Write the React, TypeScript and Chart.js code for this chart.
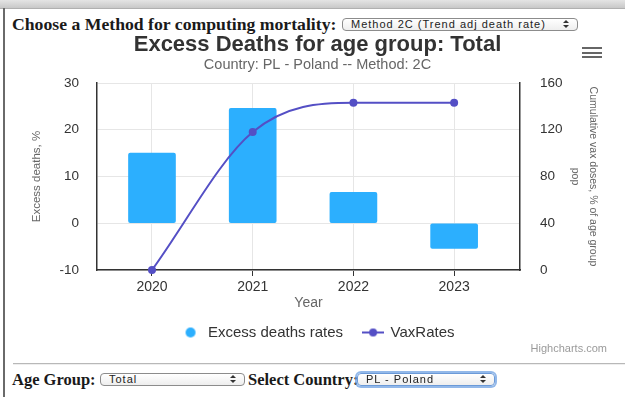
import React, { useEffect, useRef } from "react";
import { Chart, registerables } from "chart.js";

Chart.register(...registerables);

// ---- data ----
const categories = ["2020", "2021", "2022", "2023"];
const excessDeaths = [15.0, 24.6, 6.6, -5.4];
const vaxRates = [0, 118, 143, 143];
const leftAxisTicks = [-10, 0, 10, 20, 30];
const rightAxisTicks = [0, 40, 80, 120, 160];
const seriesNames = ["Excess deaths rates", "VaxRates"];

const titleText = "Excess Deaths for age group: Total";
const subtitleText = "Country: PL - Poland -- Method: 2C";
const xTitle = "Year";
const leftTitle = "Excess deaths, %";
const rightTitle = ["Cumulative vax doses, % of age group", "pop"];

const BAR_COLOR = "#2caffe";
const LINE_COLOR = "#544fc5";
const SANS = "'Liberation Sans', Arial, Helvetica, sans-serif";
const SERIF = "'Liberation Serif', 'Times New Roman', serif";

function makeCircle(color: string) {
  const c = document.createElement("canvas");
  c.width = 12;
  c.height = 12;
  const g = c.getContext("2d")!;
  g.fillStyle = color;
  g.beginPath();
  g.arc(6, 6, 5, 0, Math.PI * 2);
  g.fill();
  return c;
}

function makeLineSymbol(color: string) {
  const c = document.createElement("canvas");
  c.width = 22;
  c.height = 10;
  const g = c.getContext("2d")!;
  g.strokeStyle = color;
  g.lineWidth = 2;
  g.beginPath();
  g.moveTo(0, 5);
  g.lineTo(22, 5);
  g.stroke();
  g.fillStyle = color;
  g.beginPath();
  g.arc(11, 5, 4, 0, Math.PI * 2);
  g.fill();
  return c;
}

function ChartBox() {
  const ref = useRef<HTMLCanvasElement | null>(null);
  useEffect(() => {
    if (!ref.current) return;
    const circle = makeCircle(BAR_COLOR);
    const lineSym = makeLineSymbol(LINE_COLOR);
    const chart = new Chart(ref.current, {
      type: "bar",
      data: {
        datasets: [
          {
            type: "bar",
            label: seriesNames[0],
            data: categories.map((_, i) => ({ x: i, y: excessDeaths[i] })),
            backgroundColor: BAR_COLOR,
            barThickness: 47,
            borderRadius: 2,
            borderSkipped: false,
            yAxisID: "y",
            order: 1,
          } as any,
          {
            type: "line",
            label: seriesNames[1],
            data: categories.map((_, i) => ({ x: i, y: vaxRates[i] })),
            borderColor: LINE_COLOR,
            backgroundColor: LINE_COLOR,
            borderWidth: 2,
            pointRadius: 4,
            pointBorderWidth: 0,
            pointBackgroundColor: LINE_COLOR,
            cubicInterpolationMode: "monotone",
            clip: false,
            yAxisID: "y1",
            order: 0,
          } as any,
        ],
      },
      options: {
        animation: false,
        responsive: false,
        devicePixelRatio: 1,
        layout: { padding: { left: 0, right: 0, top: 0, bottom: 10 } },
        plugins: {
          title: {
            display: true,
            text: titleText,
            color: "#333333",
            font: { family: SANS, size: 22, weight: "bold", lineHeight: 1 },
            padding: { top: 4, bottom: 0 },
          },
          subtitle: {
            display: true,
            text: subtitleText,
            color: "#666666",
            font: { family: SANS, size: 14.5, lineHeight: 1 },
            padding: { top: 1.5, bottom: 11 },
          },
          legend: {
            display: true,
            position: "bottom",
            labels: {
              usePointStyle: true,
              pointStyleWidth: 20,
              padding: 20,
              color: "#333333",
              font: { family: SANS, size: 15 },
              generateLabels: () => [
                {
                  text: seriesNames[0],
                  pointStyle: circle as any,
                  fillStyle: BAR_COLOR,
                  strokeStyle: BAR_COLOR,
                  lineWidth: 0,
                  hidden: false,
                  datasetIndex: 0,
                  fontColor: "#333333",
                },
                {
                  text: seriesNames[1],
                  pointStyle: lineSym as any,
                  fillStyle: LINE_COLOR,
                  strokeStyle: LINE_COLOR,
                  lineWidth: 0,
                  hidden: false,
                  datasetIndex: 1,
                  fontColor: "#333333",
                },
              ],
            },
          },
          tooltip: { enabled: false },
        },
        scales: {
          x: {
            type: "linear",
            bounds: "data",
            offset: false,
            min: -0.546,
            max: 3.654,
            afterFit: (s: any) => {
              s.height = 35;
            },
            afterBuildTicks: (s: any) => {
              s.ticks = categories.map((_, i) => ({ value: i }));
            },
            ticks: {
              autoSkip: false,
              maxRotation: 0,
              padding: 3,
              color: "#333333",
              font: { family: SANS, size: 14 },
              callback: (_v: any, i: number) => categories[i],
            },
            grid: {
              offset: false,
              color: "#e6e6e6",
              lineWidth: 1,
              drawTicks: true,
              tickLength: 6,
              tickColor: "#333333",
            },
            border: { display: true, color: "#333333", width: 1.5 },
            title: {
              display: true,
              text: xTitle,
              color: "#666666",
              font: { family: SANS, size: 14, lineHeight: 1 },
              padding: { top: 0, bottom: -5 },
            },
          },
          y: {
            type: "linear",
            position: "left",
            min: leftAxisTicks[0],
            max: leftAxisTicks[leftAxisTicks.length - 1],
            afterFit: (s: any) => {
              s.width = 87;
            },
            ticks: {
              stepSize: leftAxisTicks[1] - leftAxisTicks[0],
              padding: 18,
              color: "#333333",
              font: { family: SANS, size: 13.5 },
            },
            grid: { color: "#e6e6e6", lineWidth: 1, drawTicks: false },
            border: { display: true, color: "#333333", width: 1.5 },
            title: {
              display: true,
              text: leftTitle,
              color: "#666666",
              font: { family: SANS, size: 11.5, lineHeight: 1.2 },
              padding: { top: 20.1, bottom: 0 },
            },
          },
          y1: {
            type: "linear",
            position: "right",
            min: rightAxisTicks[0],
            max: rightAxisTicks[rightAxisTicks.length - 1],
            afterFit: (s: any) => {
              s.width = 105;
            },
            ticks: {
              stepSize: rightAxisTicks[1] - rightAxisTicks[0],
              padding: 20,
              color: "#333333",
              font: { family: SANS, size: 13.5 },
            },
            grid: { display: true, drawOnChartArea: false, drawTicks: false },
            border: { display: true, color: "#333333", width: 1.5 },
            title: {
              display: true,
              text: rightTitle,
              color: "#666666",
              font: { family: SANS, size: 10.5, lineHeight: 1.7 },
              padding: { top: 23.1, bottom: 0 },
            },
          },
        },
      } as any,
    });
    return () => chart.destroy();
  }, []);
  return (
    <canvas
      ref={ref}
      width={615}
      height={330}
      style={{ position: "absolute", left: 10, top: 30, width: 615, height: 330 }}
    />
  );
}

function Arrows({ left, top }: { left: number; top: number }) {
  return (
    <div style={{ position: "absolute", left, top, width: 6, height: 9 }}>
      <div
        style={{
          position: "absolute",
          left: 0,
          top: 0,
          width: 0,
          height: 0,
          borderLeft: "3px solid transparent",
          borderRight: "3px solid transparent",
          borderBottom: "3.5px solid #333",
        }}
      />
      <div
        style={{
          position: "absolute",
          left: 0,
          top: 5,
          width: 0,
          height: 0,
          borderLeft: "3px solid transparent",
          borderRight: "3px solid transparent",
          borderTop: "3.5px solid #333",
        }}
      />
    </div>
  );
}

function FakeSelect({
  left,
  top,
  width,
  height,
  text,
  focused,
}: {
  left: number;
  top: number;
  width: number;
  height: number;
  text: string;
  focused?: boolean;
}) {
  return (
    <div
      style={{
        position: "absolute",
        left,
        top,
        width,
        height,
        boxSizing: "border-box",
        border: focused ? "1px solid #6b9ad8" : "1px solid #8c8c8c",
        boxShadow: focused ? "0 0 0 2px rgba(110,160,225,0.75)" : "none",
        borderRadius: 4,
        background: "linear-gradient(#ffffff, #eeeeee)",
        fontFamily: SANS,
        fontSize: 11,
        letterSpacing: 1,
        color: "#222",
        lineHeight: `${height - 2}px`,
        paddingLeft: 8,
        whiteSpace: "nowrap",
        overflow: "hidden",
      }}
    >
      {text}
      <Arrows left={width - 16} top={(height - 2 - 9) / 2} />
    </div>
  );
}

export default function App() {
  return (
    <div
      style={{
        position: "fixed",
        left: 0,
        top: 0,
        width: 625,
        height: 397,
        background: "#ffffff",
        overflow: "hidden",
      }}
    >
      <div
        style={{
          position: "absolute",
          left: 0,
          top: 0,
          width: 625,
          height: 8,
          background: "linear-gradient(#e4e4e4, #c8c8c8)",
          borderBottom: "1px solid #b0b0b0",
        }}
      />
      <div style={{ position: "absolute", left: 3, top: 8, width: 2, height: 389, background: "#6a6a6a" }} />

      <div
        style={{
          position: "absolute",
          left: 12,
          top: 14,
          height: 20,
          lineHeight: "20px",
          fontFamily: SERIF,
          fontWeight: "bold",
          fontSize: 17.7,
          color: "#1a1a1a",
          whiteSpace: "nowrap",
        }}
      >
        Choose a Method for computing mortality:
      </div>
      <FakeSelect left={342} top={18} width={236} height={13} text="Method 2C (Trend adj death rate)" />

      <ChartBox />

      {/* export menu icon */}
      <div style={{ position: "absolute", left: 582, top: 47, width: 20, height: 2, background: "#666" }} />
      <div style={{ position: "absolute", left: 582, top: 51.5, width: 20, height: 2, background: "#666" }} />
      <div style={{ position: "absolute", left: 582, top: 56, width: 20, height: 2, background: "#666" }} />

      <div
        style={{
          position: "absolute",
          right: 18,
          top: 341,
          height: 14,
          lineHeight: "14px",
          fontFamily: SANS,
          fontSize: 11,
          color: "#9a9a9a",
          whiteSpace: "nowrap",
        }}
      >
        Highcharts.com
      </div>

      <div
        style={{
          position: "absolute",
          left: 13,
          top: 363,
          width: 612,
          height: 0,
          borderTop: "1px solid #b8b8b8",
          borderBottom: "1px solid #eeeeee",
        }}
      />

      <div
        style={{
          position: "absolute",
          left: 12,
          top: 370,
          height: 20,
          lineHeight: "20px",
          fontFamily: SERIF,
          fontWeight: "bold",
          fontSize: 16.5,
          color: "#1a1a1a",
          whiteSpace: "nowrap",
        }}
      >
        Age Group:
      </div>
      <FakeSelect left={100} top={373} width={145} height={13} text="Total" />
      <div
        style={{
          position: "absolute",
          left: 248,
          top: 370,
          height: 20,
          lineHeight: "20px",
          fontFamily: SERIF,
          fontWeight: "bold",
          fontSize: 16.5,
          color: "#1a1a1a",
          whiteSpace: "nowrap",
        }}
      >
        Select Country:
      </div>
      <FakeSelect left={357} top={373} width={138} height={13} text="PL - Poland" focused />
    </div>
  );
}
